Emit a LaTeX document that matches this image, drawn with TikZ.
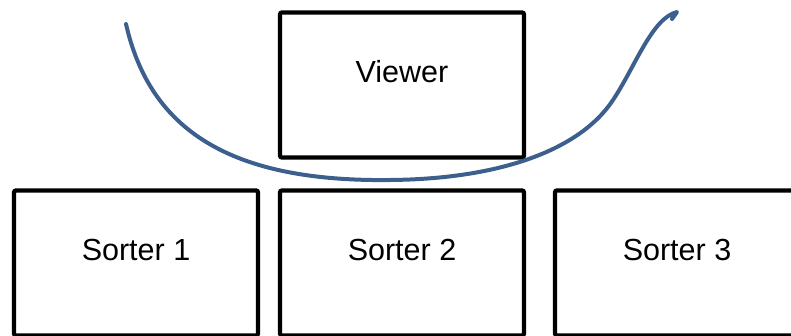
\documentclass[tikz,border=0pt]{standalone}
\usepackage{fontspec}
\setmainfont{Liberation Sans}
\definecolor{curveblue}{RGB}{60,95,142}
\begin{document}
\begin{tikzpicture}[x=1pt,y=-1pt]
    \tikzset{box/.style={draw,line width=4.3pt,rounded corners=2pt,minimum width=244pt,minimum height=145pt},
             boxlabel/.style={font=\fontsize{30.5}{36}\selectfont}}
    \useasboundingbox (0,0) rectangle (791,335);
    \node[box] (viewer) at (402,85) {};
    \node[box] (sorter1) at (136,263) {};
    \node[box] (sorter2) at (402,263) {};
    \node[box] (sorter3) at (677,263) {};
    \node[boxlabel] (viewertext) at ([yshift=13pt]viewer.center) {Viewer};
    \node[boxlabel] (sorter1text) at ([yshift=13pt]sorter1.center) {Sorter 1};
    \node[boxlabel] (sorter2text) at ([yshift=13pt]sorter2.center) {Sorter 2};
    \node[boxlabel] (sorter3text) at ([yshift=13pt]sorter3.center) {Sorter 3};
    \draw[curveblue,line width=4pt,line cap=round,line join=round]
        (126,24) .. controls (150,130) and (230,182) .. (390,180)
        .. controls (500,179) and (580,150) .. (613,100)
        .. controls (635,67) and (652,18) .. (677,12)
        -- (672,19);
\end{tikzpicture}
\end{document}
